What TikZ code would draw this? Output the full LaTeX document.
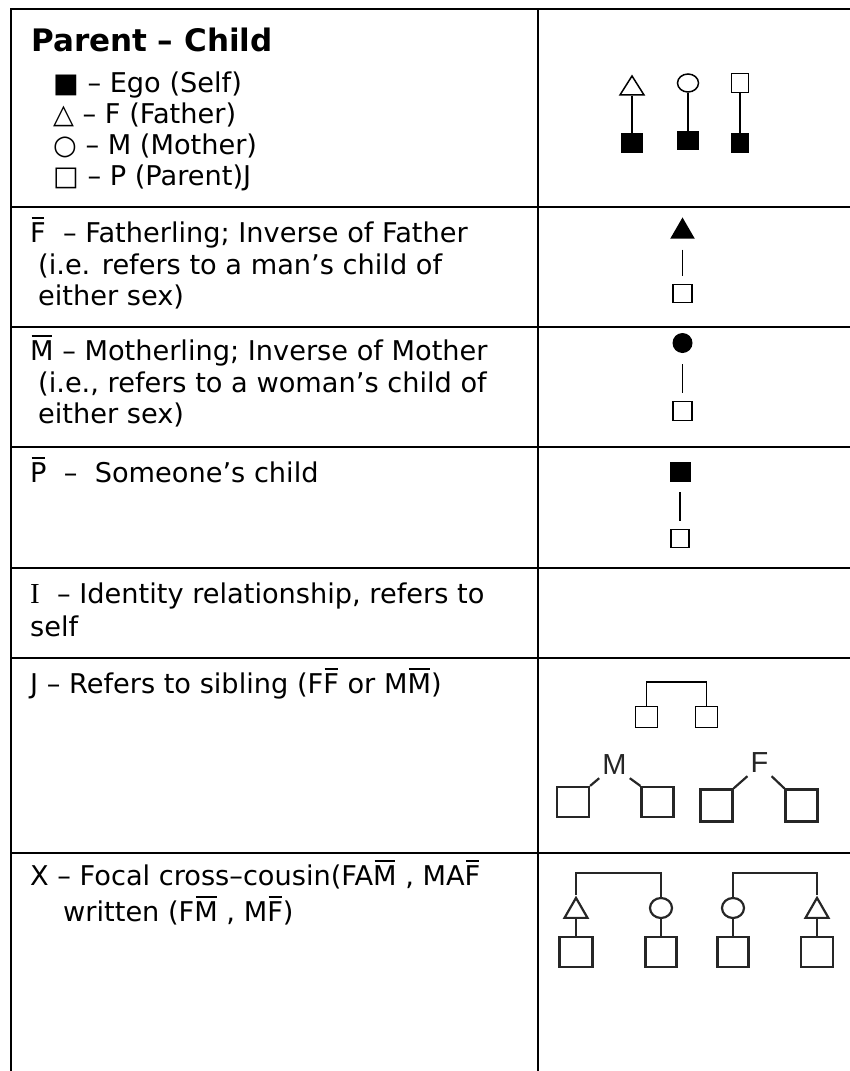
\documentclass[tikz,border=0pt]{standalone}
\usepackage{fontspec}
\setmainfont{DejaVu Sans}
\newfontfamily\labelfont{Liberation Sans}
\newfontfamily\serifletter{Liberation Serif}
\usetikzlibrary{shapes.geometric}

% letter with a bar over it (inverse relation)
\newcommand\ob[1]{\leavevmode\setbox0=\hbox{#1}\rlap{\kern0.05em\rule[\dimexpr\ht0+0.1em\relax]{\dimexpr\wd0-0.1em\relax}{0.075em}}\box0\relax}

\begin{document}
\begin{tikzpicture}[x=1pt,y=-1pt,
  rule/.style={line width=2.5pt, line cap=rect},
  ln/.style={anchor=base west, inner sep=0pt, font=\fontsize{27.2}{32}\selectfont},
  head/.style={anchor=base west, inner sep=0pt, font=\fontsize{31}{36}\selectfont\bfseries},
  thin/.style={line width=1.5pt},
  gl/.style={line width=2.2pt, draw=black!85},
  sz/.style 2 args={minimum width=#1pt, minimum height=#2pt},
  osq/.style={draw, thin, rectangle, inner sep=0pt, fill=white},
  fsq/.style={draw, thin, rectangle, inner sep=0pt, fill=black},
  oel/.style={draw, thin, ellipse, inner sep=0pt},
  tri/.style={draw, thin, isosceles triangle, isosceles triangle stretches,
              shape border rotate=90, inner sep=0pt},
  lab/.style={font=\labelfont\fontsize{29}{29}\selectfont, text=black!85, inner sep=3pt}
]
\useasboundingbox (0,0) rectangle (850,1071);

% table rules
\draw[rule] (11,1080) -- (11,9) -- (860,9);
\draw[rule] (538,9) -- (538,1080);
\foreach \yy in {207,327,447,568,658,853}
  \draw[rule] (11,\yy) -- (860,\yy);

% ---------- left column ----------
\node[head] (t1) at (31,51) {Parent – Child};
\node[ln] (t1a) at (53,92) {■ – Ego (Self)};
\node[ln] (t1b) at (53,123) {△ – F (Father)};
\node[ln] (t1c) at (53,154) {○ – M (Mother)};
\node[ln] (t1d) at (53,185) {□ – P (Parent)J};

\node[ln] (t2a) at (30,242) {\ob{F}~~– Fatherling; Inverse of Father};
\node[ln] (t2b) at (38,274) {(i.e. refers to a man’s child of};
\node[ln] (t2c) at (38,305) {either sex)};

\node[ln] (t3a) at (30,360) {\ob{M} – Motherling; Inverse of Mother};
\node[ln] (t3b) at (38,392) {(i.e., refers to a woman’s child of};
\node[ln] (t3c) at (38,423) {either sex)};

\node[ln] (t4a) at (30,482) {\ob{P}~~–~~Someone’s child};

\node[ln] (t5a) at (30,603) {{\serifletter\fontsize{29}{32}\selectfont I}~~– Identity relationship, refers to};
\node[ln] (t5b) at (30,636) {self};

\node[ln] (t6a) at (30,693) {J – Refers to sibling (F\ob{F} or M\ob{M})};

\node[ln] (t7a) at (30,885) {X – Focal cross–cousin(FA\ob{M} , MA\ob{F}};
\node[ln] (t7b) at (63,921) {written (F\ob{M} , M\ob{F})};

% ---------- right column ----------
% parent - ego
\node[tri, sz={24}{19}, anchor=apex] (fa1) at (632,74) {};
\node[fsq, sz={20.5}{18.5}] (eg1) at (632,143) {};
\draw[thin] (fa1.lower side) -- (eg1.north);
\node[oel, sz={21}{18}] (mo1) at (688,83) {};
\node[fsq, sz={20.5}{17.5}] (eg2) at (688,140.5) {};
\draw[thin] (mo1.south) -- (eg2.north);
\node[osq, sz={17}{19}] (pa1) at (740,83) {};
\node[fsq, sz={16.5}{18.5}] (eg3) at (740,143) {};
\draw[thin] (pa1.south) -- (eg3.north);

% fatherling
\node[tri, fill=black, sz={22}{19}, anchor=apex] (fa2) at (682.5,217) {};
\node[osq, sz={19}{18}] (ch2) at (682.5,293.5) {};
\draw[thin, shorten <=11pt, shorten >=8pt] (fa2.lower side) -- (ch2.north);

% motherling
\node[circle, fill=black, minimum size=20pt, inner sep=0pt] (mo3) at (682.5,343) {};
\node[osq, sz={19}{19}] (ch3) at (682.5,411) {};
\draw[thin, shorten <=11pt, shorten >=8pt] (mo3.south) -- (ch3.north);

% someone's child
\node[fsq, sz={19.5}{18.5}] (eg4) at (680,472) {};
\node[osq, sz={18}{18}] (ch4) at (680,538.5) {};
\draw[thin, shorten <=10pt, shorten >=8pt] (eg4.south) -- (ch4.north);

% siblings
\node[osq, sz={22}{21}] (sb1) at (646.5,717) {};
\node[osq, sz={22}{21}] (sb2) at (706.5,717) {};
\coordinate (sbar) at (676,682);
\draw[thin] (sb1.north) |- (sbar) -| (sb2.north);

\node[osq, gl, sz={32}{30}] (mb1) at (573,802) {};
\node[osq, gl, sz={32}{30}] (mb2) at (657.5,802) {};
\node[lab] (mlab) at (614.5,765) {M};
\draw[gl] (mb1.north east) -- (mlab.south west);
\draw[gl] (mb2.north west) -- (mlab.south east);

\node[osq, gl, sz={32}{32}] (fb1) at (716.5,805.5) {};
\node[osq, gl, sz={32}{32}] (fb2) at (801.5,805.5) {};
\node[lab] (flab) at (759.5,763) {F};
\draw[gl] (fb1.north east) -- (flab.south west);
\draw[gl] (fb2.north west) -- (flab.south east);

% cross-cousins
\node[tri, gl, sz={23}{20}, anchor=apex] (xf1) at (576,895) {};
\node[osq, gl, sz={33}{30}] (xs1) at (576,952) {};
\node[oel, gl, sz={22}{20}] (xm1) at (661,908) {};
\node[osq, gl, sz={31}{30}] (xs2) at (661,952) {};
\coordinate (xbar1) at (618,873);
\draw[gl] (xf1.apex) |- (xbar1) -| (xm1.north);
\draw[gl] (xf1.lower side) -- (xs1.north);
\draw[gl] (xm1.south) -- (xs2.north);

\node[oel, gl, sz={22}{20}] (xm2) at (733,908) {};
\node[osq, gl, sz={31}{30}] (xs3) at (733,952) {};
\node[tri, gl, sz={23}{20}, anchor=apex] (xf2) at (817,895) {};
\node[osq, gl, sz={32}{30}] (xs4) at (817,952) {};
\coordinate (xbar2) at (775,873);
\draw[gl] (xm2.north) |- (xbar2) -| (xf2.apex);
\draw[gl] (xm2.south) -- (xs3.north);
\draw[gl] (xf2.lower side) -- (xs4.north);
\end{tikzpicture}
\end{document}
